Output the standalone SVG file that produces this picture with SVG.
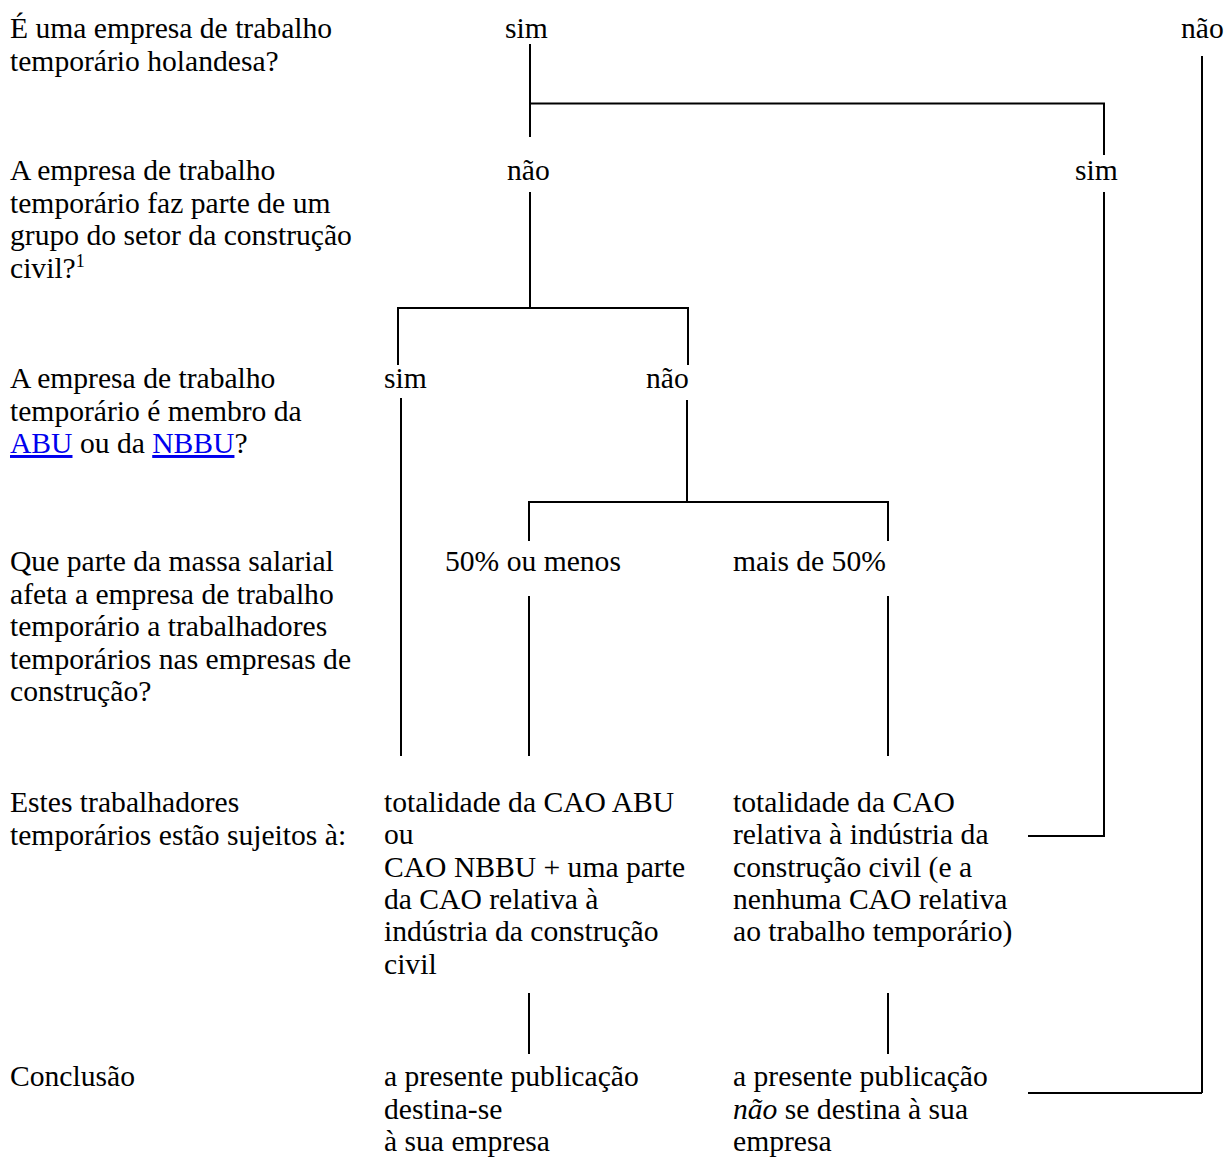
<svg xmlns="http://www.w3.org/2000/svg" width="1226" height="1158" viewBox="0 0 1226 1158">
<style>
text{font-family:"Liberation Serif","Times New Roman",serif;font-size:29.6px;fill:#000}
.link{fill:#0000EE;text-decoration:underline}
.sup{font-size:18px}
.conn line,.conn polyline{stroke:#000;stroke-width:2;fill:none}
</style>
<rect width="1226" height="1158" fill="#fff"/>
<g id="q1"><text x="10" y="38"><tspan x="10">É uma empresa de trabalho</tspan><tspan x="10" dy="32.5">temporário holandesa?</tspan></text></g>
<g id="q2"><text x="10" y="180"><tspan x="10">A empresa de trabalho</tspan><tspan x="10" dy="32.5">temporário faz parte de um</tspan><tspan x="10" dy="32.5">grupo do setor da construção</tspan><tspan x="10" dy="32.5">civil?</tspan><tspan class="sup" dy="-11">1</tspan></text></g>
<g id="q3"><text x="10" y="388"><tspan x="10">A empresa de trabalho</tspan><tspan x="10" dy="32.5">temporário é membro da</tspan><tspan x="10" dy="32.5" class="link">ABU</tspan><tspan> ou da </tspan><tspan class="link">NBBU</tspan><tspan>?</tspan></text></g>
<g id="q4"><text x="10" y="571"><tspan x="10">Que parte da massa salarial</tspan><tspan x="10" dy="32.5">afeta a empresa de trabalho</tspan><tspan x="10" dy="32.5">temporário a trabalhadores</tspan><tspan x="10" dy="32.5">temporários nas empresas de</tspan><tspan x="10" dy="32.5">construção?</tspan></text></g>
<g id="q5"><text x="10" y="812"><tspan x="10">Estes trabalhadores</tspan><tspan x="10" dy="32.5">temporários estão sujeitos à:</tspan></text></g>
<g id="q6"><text x="10" y="1086">Conclusão</text></g>

<g id="a1-sim"><text x="505" y="38">sim</text></g>
<g id="a1-nao"><text x="1181" y="38">não</text></g>
<g id="a2-nao"><text x="507" y="180">não</text></g>
<g id="a2-sim"><text x="1075" y="180">sim</text></g>
<g id="a3-sim"><text x="384" y="388">sim</text></g>
<g id="a3-nao"><text x="646" y="388">não</text></g>
<g id="a4-menos"><text x="445" y="571">50% ou menos</text></g>
<g id="a4-mais"><text x="733" y="571">mais de 50%</text></g>
<g id="r-abu"><text x="384" y="812"><tspan x="384">totalidade da CAO ABU</tspan><tspan x="384" dy="32.3">ou</tspan><tspan x="384" dy="32.3">CAO NBBU + uma parte</tspan><tspan x="384" dy="32.3">da CAO relativa à</tspan><tspan x="384" dy="32.3">indústria da construção</tspan><tspan x="384" dy="32.3">civil</tspan></text></g>
<g id="r-cao"><text x="733" y="812"><tspan x="733">totalidade da CAO</tspan><tspan x="733" dy="32.3">relativa à indústria da</tspan><tspan x="733" dy="32.3">construção civil (e a</tspan><tspan x="733" dy="32.3">nenhuma CAO relativa</tspan><tspan x="733" dy="32.3">ao trabalho temporário)</tspan></text></g>
<g id="c-sim"><text x="384" y="1086"><tspan x="384">a presente publicação</tspan><tspan x="384" dy="32.5">destina-se</tspan><tspan x="384" dy="32.5">à sua empresa</tspan></text></g>
<g id="c-nao"><text x="733" y="1086"><tspan x="733">a presente publicação</tspan><tspan x="733" dy="32.5" font-style="italic">não</tspan><tspan> se destina à sua</tspan><tspan x="733" dy="32.5">empresa</tspan></text></g>

<g id="connectors" class="conn">
<line x1="530" y1="44" x2="530" y2="137"/>
<polyline points="530,103.5 1104,103.5 1104,155"/>
<line x1="1202" y1="56" x2="1202" y2="1093"/>
<line x1="1202" y1="1093" x2="1028" y2="1093"/>
<polyline points="1104,192 1104,836 1028,836"/>
<line x1="530" y1="192" x2="530" y2="308"/>
<polyline points="398,365 398,308 688,308 688,365"/>
<line x1="401" y1="398" x2="401" y2="756"/>
<line x1="687" y1="400" x2="687" y2="502"/>
<polyline points="529,541 529,502 888,502 888,541"/>
<line x1="529" y1="596" x2="529" y2="756"/>
<line x1="888" y1="596" x2="888" y2="756"/>
<line x1="529" y1="993" x2="529" y2="1054"/>
<line x1="888" y1="993" x2="888" y2="1054"/>
</g>
</svg>
